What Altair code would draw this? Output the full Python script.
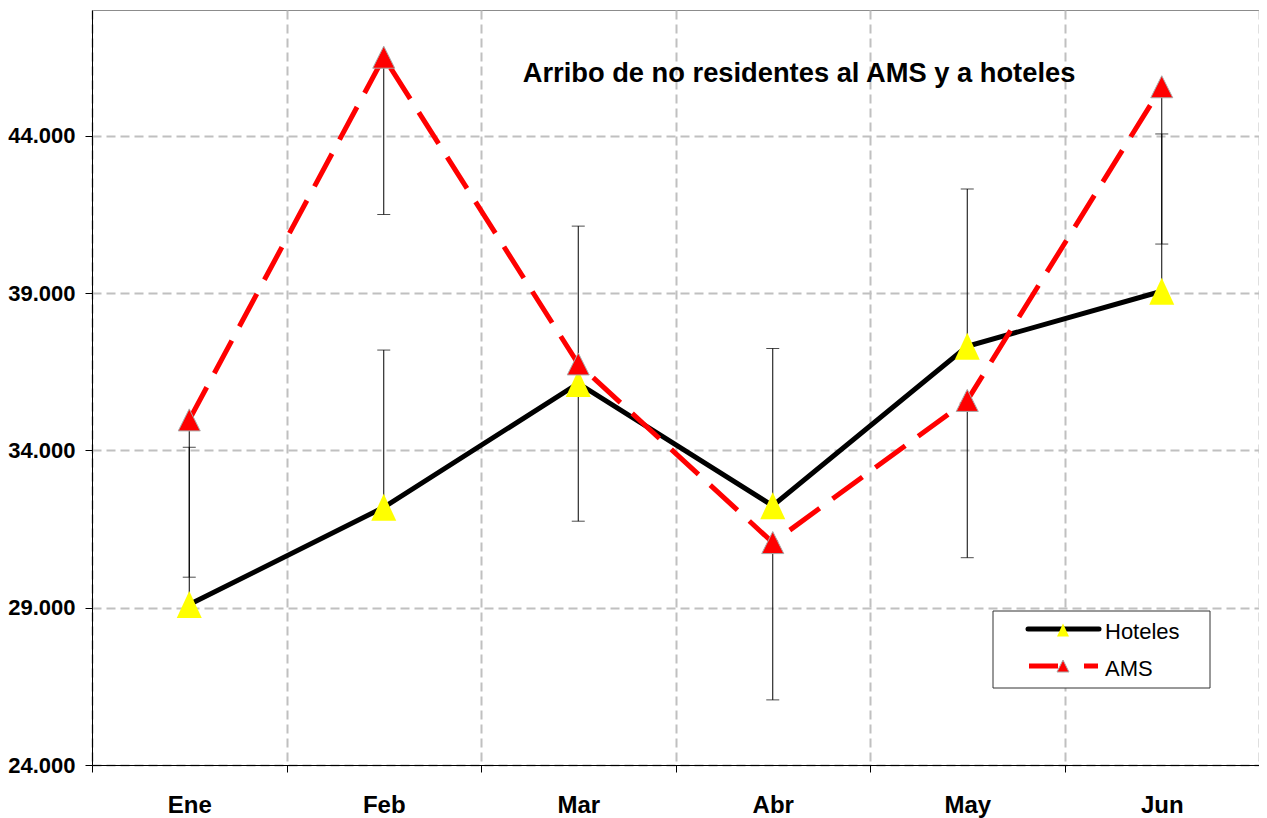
import altair as alt
import pandas as pd

# ---- data ----
months = ["Ene", "Feb", "Mar", "Abr", "May", "Jun"]
hoteles = [29100, 32190, 36130, 32240, 37310, 39060]
ams = [34970, 46500, 36750, 31070, 35590, 45560]
hoteles_err_plus = [5000, 5000, 5000, 5000, 5000, 5000]
ams_err_minus = [5000, 5000, 5000, 5000, 5000, 5000]
y_ticks = [24000, 29000, 34000, 39000, 44000]
y_domain = [24000, 48000]
series_names = ["Hoteles", "AMS"]
title_text = "Arribo de no residentes al AMS y a hoteles"

FONT = "Liberation Sans, Arial, Helvetica, sans-serif"
W, H = 1167, 755

df = pd.DataFrame({
    "mes": months,
    "hoteles": hoteles,
    "ams": ams,
    "hot_hi": [v + e for v, e in zip(hoteles, hoteles_err_plus)],
    "ams_lo": [v - e for v, e in zip(ams, ams_err_minus)],
})

x_axis = alt.Axis(
    title=None, tickBand="extent", grid=True, gridColor="#c0c0c0",
    gridDash=[9, 5], gridWidth=2, domainColor="black", domainWidth=1,
    tickColor="black", tickSize=7, tickWidth=1, labelFont=FONT,
    labelFontSize=24, labelFontWeight="bold", labelColor="black",
    labelPadding=40, labelBaseline="alphabetic", labelAngle=0,
)
x_enc = alt.X(
    "mes:N", sort=months, bandPosition=0.5,
    scale=alt.Scale(type="band", domain=months, paddingInner=0, paddingOuter=0),
    axis=x_axis,
)
y_scale = alt.Scale(domain=y_domain, nice=False, zero=False)
y_axis = alt.Axis(
    title=None, values=y_ticks,
    labelExpr="replace(format(datum.value, ',d'), ',', '.')",
    grid=True, gridColor="#c0c0c0", gridDash=[9, 5], gridWidth=2,
    domainColor="black", domainWidth=1, tickColor="black", tickSize=7,
    tickWidth=1, labelFont=FONT, labelFontSize=22, labelFontWeight="bold",
    labelColor="black", labelPadding=10,
)


def Y(field):
    return alt.Y(field, scale=y_scale, axis=y_axis)


base = alt.Chart(df)

hot_line = base.mark_line(color="black", strokeWidth=5).encode(x=x_enc, y=Y("hoteles:Q"))
ams_line = base.mark_line(color="#ff0000", strokeWidth=5, strokeDash=[37, 16]).encode(
    x=x_enc, y=Y("ams:Q"))

hot_err = base.mark_rule(color="black", strokeWidth=1).encode(
    x=x_enc, y=Y("hoteles:Q"), y2="hot_hi:Q")
hot_cap = base.mark_tick(color="black", thickness=1, size=13, orient="horizontal").encode(
    x=x_enc, y=Y("hot_hi:Q"))
ams_err = base.mark_rule(color="black", strokeWidth=1).encode(
    x=x_enc, y=Y("ams_lo:Q"), y2="ams:Q")
ams_cap = base.mark_tick(color="black", thickness=1, size=13, orient="horizontal").encode(
    x=x_enc, y=Y("ams_lo:Q"))

YELLOW_TRI = "M0,-1.08L1,1.08L-1,1.08Z"
RED_TRI = "M0,-1L1,1L-1,1Z"

hot_pts = base.mark_point(shape=YELLOW_TRI, size=625, filled=True, fill="#ffff00",
                          strokeWidth=0, opacity=1).encode(x=x_enc, y=Y("hoteles:Q"))
ams_pts = base.mark_point(shape=RED_TRI, size=484, filled=True, fill="#ff0000",
                          stroke="#a8a8a8", strokeWidth=1, opacity=1).encode(x=x_enc, y=Y("ams:Q"))

one = alt.Data(values=[{}])

title = alt.Chart(one).mark_text(
    text=title_text, font=FONT, fontSize=27.3, fontWeight="bold", align="center",
    baseline="alphabetic", color="black").encode(x=alt.value(707), y=alt.value(72))

# ---- hand-built legend ----
leg_box = alt.Chart(one).mark_rect(fill="white", stroke="#333333", strokeWidth=1).encode(
    x=alt.value(901), x2=alt.value(1118), y=alt.value(601), y2=alt.value(678))
leg_hot_line = alt.Chart(one).mark_rule(color="black", strokeWidth=5, strokeCap="round").encode(
    x=alt.value(936), x2=alt.value(1007), y=alt.value(619))
leg_hot_pt = alt.Chart(one).mark_point(shape=YELLOW_TRI, size=144, filled=True, fill="#ffff00",
                                       strokeWidth=0, opacity=1).encode(x=alt.value(971), y=alt.value(620))
leg_hot_txt = alt.Chart(one).mark_text(text=series_names[0], font=FONT, fontSize=22, align="left",
                                       baseline="middle", color="black").encode(
    x=alt.value(1013), y=alt.value(622))
leg_ams_line = alt.Chart(one).mark_rule(color="#ff0000", strokeWidth=5, strokeDash=[29, 26]).encode(
    x=alt.value(937), x2=alt.value(1006), y=alt.value(656))
leg_ams_pt = alt.Chart(one).mark_point(shape=RED_TRI, size=144, filled=True, fill="#ff0000",
                                       stroke="#a8a8a8", strokeWidth=1, opacity=1).encode(
    x=alt.value(971), y=alt.value(656))
leg_ams_txt = alt.Chart(one).mark_text(text=series_names[1], font=FONT, fontSize=22, align="left",
                                       baseline="middle", color="black").encode(
    x=alt.value(1013), y=alt.value(659))

chart = alt.layer(
    hot_line, ams_line, hot_err, hot_cap, ams_err, ams_cap, hot_pts, ams_pts, title,
    leg_box, leg_hot_line, leg_hot_pt, leg_hot_txt, leg_ams_line, leg_ams_pt, leg_ams_txt,
).properties(
    width=W, height=H,
    padding={"left": 84, "top": 2, "right": 0, "bottom": 53},
    autosize=alt.AutoSizeParams(type="none"),
    background="white",
).configure_view(stroke="#8c8c8c", strokeWidth=1)

chart.save("out.html", embed_options={"renderer": "svg", "actions": False})
